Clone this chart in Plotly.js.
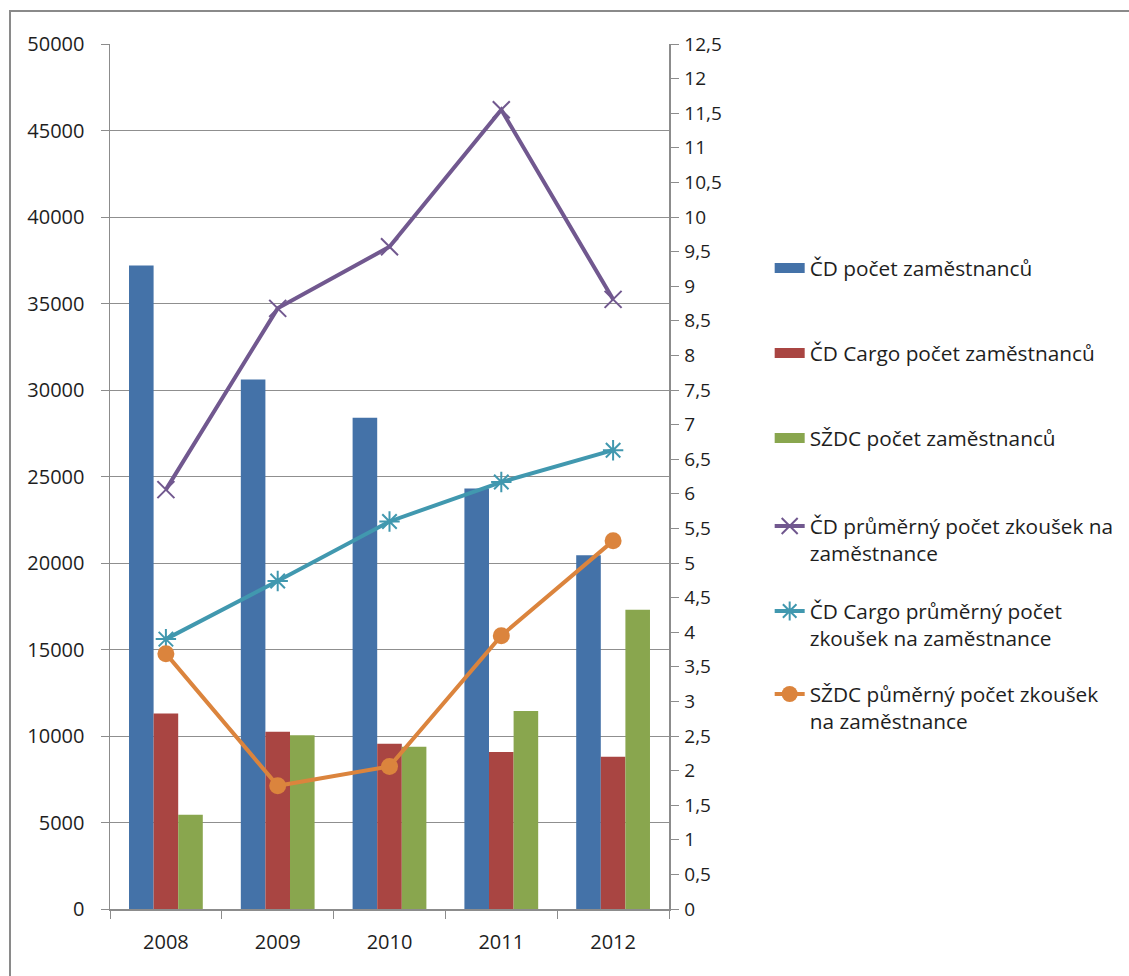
<!DOCTYPE html>
<html>
<head>
<meta charset="utf-8">
<script src="https://cdn.plot.ly/plotly-3.0.1.min.js"></script>
<style>
  html, body { margin: 0; padding: 0; background: #fff; }
  #frame { position: absolute; left: 0; top: 0; width: 1129px; height: 976px; }
  #border { position: absolute; left: 9px; top: 10px; width: 1120px; height: 966px;
            border-top: 2px solid #8a8a8a; border-left: 2px solid #8a8a8a; pointer-events: none; }
  #chart { position: absolute; left: 0; top: 0; width: 1129px; height: 976px; }
</style>
</head>
<body>
<div id="frame">
  <div id="chart"></div>
  <div id="border"></div>
</div>
<script>
// ---- data ----
const years = ['2008', '2009', '2010', '2011', '2012'];

const cdEmployees      = [37200, 30600, 28400, 24300, 20450];
const cargoEmployees   = [11300, 10250, 9550, 9080, 8800];
const szdcEmployees    = [5450, 10050, 9380, 11450, 17300];

const cdAvgTests       = [6.06, 8.68, 9.57, 11.55, 8.81];
const cargoAvgTests    = [3.9, 4.74, 5.6, 6.17, 6.63];
const szdcAvgTests     = [3.69, 1.78, 2.06, 3.95, 5.32];

const seriesNames = [
  'ČD počet zaměstnanců',
  'ČD Cargo počet zaměstnanců',
  'SŽDC počet zaměstnanců',
  'ČD průměrný počet zkoušek na<br>zaměstnance',
  'ČD Cargo průměrný počet<br>zkoušek na zaměstnance',
  'SŽDC půměrný počet zkoušek<br>na zaměstnance'
];

const leftTickVals = [0, 5000, 10000, 15000, 20000, 25000, 30000, 35000, 40000, 45000, 50000];
const leftTickText = ['0', '5000', '10000', '15000', '20000', '25000', '30000', '35000', '40000', '45000', '50000'];
const rightTickVals = [0, 0.5, 1, 1.5, 2, 2.5, 3, 3.5, 4, 4.5, 5, 5.5, 6, 6.5, 7, 7.5, 8, 8.5, 9, 9.5, 10, 10.5, 11, 11.5, 12, 12.5];
const rightTickText = ['0', '0,5', '1', '1,5', '2', '2,5', '3', '3,5', '4', '4,5', '5', '5,5', '6', '6,5', '7', '7,5', '8', '8,5', '9', '9,5', '10', '10,5', '11', '11,5', '12', '12,5'];

// ---- styling ----
const colors = ['#4472A8', '#A94542', '#89A64E', '#71588F', '#4198AF', '#DB843D'];
const FONT = 'Open Sans, Lato, sans-serif';
const legendRows = [267, 352, 437, 525, 610, 693]; // pixel y of first text line

const plotTop = 44, plotBottom = 909;
function py(pix) { return (plotBottom - pix) / (plotBottom - plotTop); }

const barSeries = [cdEmployees, cargoEmployees, szdcEmployees];
const traces = [];
barSeries.forEach(function (vals, i) {
  traces.push({ type: 'bar', x: years, y: vals, name: seriesNames[i],
    marker: { color: colors[i] }, showlegend: false });
});
// legend swatches for the bar series (wide rectangles as in the original)
barSeries.forEach(function (vals, i) {
  traces.push({ type: 'scatter', mode: 'lines', x: [null], y: [null], name: seriesNames[i],
    line: { color: colors[i], width: 15 }, legend: i === 0 ? 'legend' : 'legend' + (i + 1),
    hoverinfo: 'skip' });
});
traces.push(
  { type: 'scatter', mode: 'lines+markers', x: years, y: cdAvgTests, yaxis: 'y2', name: seriesNames[3],
    line: { color: colors[3], width: 4 },
    marker: { symbol: 'x-thin-open', size: 17, color: colors[3], line: { color: colors[3], width: 2 } }, legend: 'legend4' },
  { type: 'scatter', mode: 'lines+markers', x: years, y: cargoAvgTests, yaxis: 'y2', name: seriesNames[4],
    line: { color: colors[4], width: 4 },
    marker: { symbol: 'asterisk-open', size: 17, color: colors[4], line: { color: colors[4], width: 2 } }, legend: 'legend5' },
  { type: 'scatter', mode: 'lines+markers', x: years, y: szdcAvgTests, yaxis: 'y2', name: seriesNames[5],
    line: { color: colors[5], width: 4 },
    marker: { symbol: 'circle', size: 17, color: colors[5] }, legend: 'legend6' }
);

function legendAt(i) {
  return {
    x: 1.178, xanchor: 'left',
    y: py(legendRows[i] - 19), yanchor: 'top',
    bgcolor: 'rgba(0,0,0,0)',
    font: { family: FONT, size: 20.8, color: '#1e1e1e' },
    valign: 'top',
    itemwidth: 30
  };
}

const layout = {
  width: 1129, height: 976,
  margin: { l: 110, r: 459, t: plotTop, b: 976 - plotBottom },
  paper_bgcolor: '#fff', plot_bgcolor: '#fff',
  barmode: 'group', bargap: 0.34, bargroupgap: 0,
  font: { family: FONT, size: 20, color: '#1e1e1e' },
  xaxis: {
    type: 'category', showgrid: false, showline: true, linecolor: '#8c8c8c', linewidth: 1.5,
    ticks: 'outside', ticklen: 8, tickcolor: '#8c8c8c', tickson: 'boundaries',
    tickfont: { family: FONT, size: 20, color: '#1e1e1e' }, ticklabelstandoff: 14, zeroline: false
  },
  yaxis: {
    range: [0, 50000], tickvals: leftTickVals, ticktext: leftTickText,
    showgrid: true, gridcolor: '#8f8f8f', gridwidth: 1, zeroline: false,
    showline: true, linecolor: '#8c8c8c', linewidth: 1.5,
    ticks: 'outside', ticklen: 8, tickcolor: '#8c8c8c',
    tickfont: { family: FONT, size: 20, color: '#1e1e1e' }, ticklabelstandoff: 12
  },
  yaxis2: {
    overlaying: 'y', side: 'right', range: [0, 12.5],
    tickvals: rightTickVals, ticktext: rightTickText,
    showgrid: false, zeroline: false, showline: true, linecolor: '#8c8c8c', linewidth: 1.5,
    ticks: 'outside', ticklen: 8, tickcolor: '#8c8c8c',
    tickfont: { family: FONT, size: 19, color: '#1e1e1e' }, ticklabelstandoff: 2
  },
  legend: legendAt(0), legend2: legendAt(1), legend3: legendAt(2),
  legend4: legendAt(3), legend5: legendAt(4), legend6: legendAt(5),
  showlegend: true
};

Plotly.newPlot('chart', traces, layout, { displayModeBar: false, staticPlot: true });
</script>
</body>
</html>
